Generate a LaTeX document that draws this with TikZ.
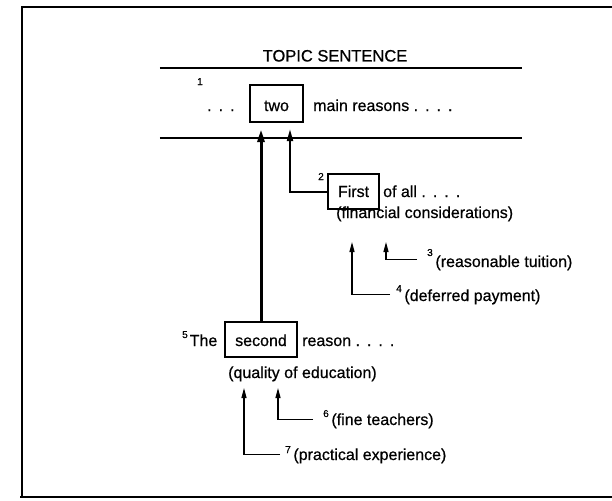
\documentclass[tikz,border=0pt]{standalone}
\usepackage{fontspec}
\setmainfont{Liberation Sans}[FakeBold=0.6]
\usetikzlibrary{arrows.meta,calc}
% small raised reference numbers and spaced ellipsis dots
\newcommand\supn[2][9pt]{\raisebox{#1}{\fontsize{10}{10}\selectfont #2}}
\newcommand\mydotsiii{.\hspace{7pt}.\hspace{7pt}.}
\newcommand\mydotsiv{\mydotsiii\hspace{7pt}.}

\begin{document}
\begin{tikzpicture}[x=1pt,y=-1pt,
  txt/.style={inner sep=0pt, font=\fontsize{16}{19}\selectfont, anchor=base west},
  num/.style={inner sep=0pt, font=\fontsize{10}{12}\selectfont, anchor=base west},
  keybox/.style={draw, line width=1.2pt, inner xsep=0pt, inner ysep=0pt,
    anchor=base, font=\fontsize{16}{19}\selectfont},
  band/.style={inner sep=0pt, minimum width=362pt, minimum height=70pt},
  rule/.style={line width=1.5pt},
  frame/.style={line width=1.3pt},
  mainarrow/.style={line width=3pt, -{Triangle[length=13pt,width=7pt]}},
  branch/.style={line width=2pt, -{Triangle[length=12pt,width=6pt]}},
  subarrow/.style={line width=1.2pt, -{Triangle[length=10pt,width=5pt]}}]
\useasboundingbox (0,0) rectangle (612,500);

% outer frame (open on the right)
\draw[frame] (22,497) -- (22,7) -- (612,7);
\draw[frame] (20,497) -- (612,497);

% topic sentence band
\node[inner sep=0pt, anchor=base, font=\fontsize{16.5}{19}\selectfont] (title) at (335,61.5) {TOPIC SENTENCE};
\node[band] (topic) at (341,103) {};
\draw[rule] (topic.north west) -- (topic.north east);
\draw[rule] (topic.south west) -- (topic.south east);

\node[num] (n1) at (197,85) {1};
\node[txt] (dots1) at (207,111) {\mydotsiii};
\node[keybox, minimum width=53pt, text height=26pt, text depth=11pt] (two) at (276.5,111) {two};
\node[txt] (reasons) at (313,111) {main reasons \mydotsiv};

% first supporting point
\node[num] (n2) at (318,180) {2};
\node[keybox, minimum width=51pt, text height=23pt, text depth=12pt] (first) at (353.5,197) {First};
\node[txt] (ofall) at (383,197) {of all \mydotsiv};
\node[txt] (fin) at (336,218) {(financial considerations)};
\node[txt] (n3) at (417,267) {\kern10pt\supn[11pt]{3}\,(reasonable tuition)};
\node[txt] (n4) at (390,301) {\kern6pt\supn{4}\,(deferred payment)};

% second supporting point
\node[txt] (the) at (182,346) {\supn[8pt]{5}\kern2pt The};
\node[keybox, minimum width=72pt, text height=24pt, text depth=11pt] (second) at (261,346) {second};
\node[txt] (reason) at (302,346) {reason \mydotsiv};
\node[txt] (qual) at (228,378) {(quality of education)};
\node[txt] (n6) at (313,425) {\kern10pt\supn[8pt]{6}\,(fine teachers)};
\node[txt] (n7) at (280,460) {\kern5pt\supn[7pt]{7}\,(practical experience)};

% arrow tips
\coordinate (t3) at (386,242);
\coordinate (t4) at (352,242);
\coordinate (t6) at (278,388);
\coordinate (t7) at (244,388);

% connectors
\draw[mainarrow] (second.north) -- ($(second.north |- topic.south)+(0pt,9pt)$);
\draw[branch] (first.west) -| ($(290,0 |- topic.south)+(0pt,9pt)$);
\draw[subarrow] (n3.west) -| (t3);
\draw[subarrow] (n4.west) -| (t4);
\draw[subarrow] (n6.west) -| (t6);
\draw[subarrow] (n7.west) -| (t7);
\end{tikzpicture}
\end{document}
